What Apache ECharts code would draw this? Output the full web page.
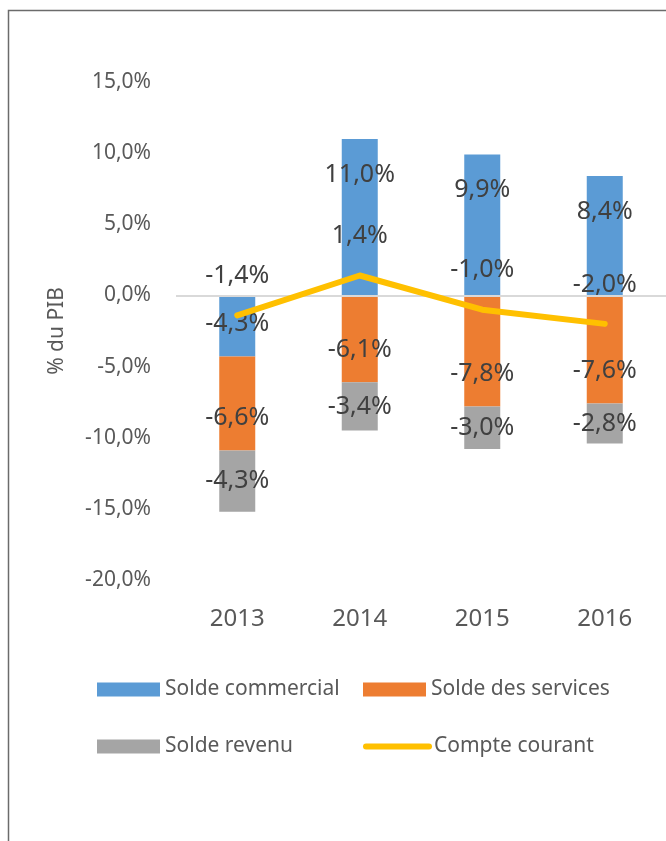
<!DOCTYPE html>
<html>
<head>
<meta charset="utf-8">
<script src="https://cdn.jsdelivr.net/npm/echarts@6/dist/echarts.min.js"></script>
<style>
  html, body { margin: 0; padding: 0; background: #fff; }
  #chart { width: 666px; height: 841px; }
</style>
</head>
<body>
<div id="chart"></div>
<script>
// données (% du PIB)
const years = ['2013', '2014', '2015', '2016']
const soldeCommercial = [-4.3, 11.0, 9.9, 8.4]
const soldeServices = [-6.6, -6.1, -7.8, -7.6]
const soldeRevenu = [-4.3, -3.4, -3.0, -2.8]
const compteCourant = [-1.4, 1.4, -1.0, -2.0]

// distance des étiquettes bleues (style seulement)
const blueLabelDist = [16, 23, 23, 23]

const fontFamily = '"Noto Sans", "Open Sans", sans-serif'
const fmt = (v) => v.toFixed(1).replace('.', ',') + '%'

const labelBase = {
  show: true,
  color: '#404040',
  fontSize: 25,
  fontFamily: fontFamily,
  formatter: (p) => fmt(p.value),
}

let myChart = echarts.init(document.getElementById('chart'))
let option = {
  animation: false,
  backgroundColor: '#fff',
  graphic: [
    {
      type: 'rect',
      shape: { x: 8.5, y: 10.5, width: 700, height: 900 },
      style: { fill: 'none', stroke: '#6b6b6b', lineWidth: 1.5 },
      silent: true,
      z: 100,
    },
  ],
  grid: {
    left: 176,
    top: 82,
    width: 494,
    height: 498,
  },
  legend: {
    left: 97,
    top: 666,
    width: 530,
    padding: 0,
    itemWidth: 63,
    itemHeight: 14,
    itemGap: 10,
    textStyle: {
      color: '#595959',
      fontSize: 21,
      fontFamily: fontFamily,
      width: 188,
      lineHeight: 47,
    },
    data: [
      { name: 'Solde commercial', icon: 'rect' },
      { name: 'Solde des services', icon: 'rect' },
      { name: 'Solde revenu', icon: 'rect' },
      {
        name: 'Compte courant',
        itemStyle: { opacity: 0 },
        lineStyle: { width: 6, color: '#ffc000', cap: 'round' },
      },
    ],
  },
  xAxis: {
    type: 'category',
    data: years,
    axisLine: { show: false },
    axisTick: { show: false },
    axisLabel: {
      color: '#595959',
      fontSize: 24,
      fontFamily: fontFamily,
      margin: 27,
    },
  },
  yAxis: {
    type: 'value',
    min: -20,
    max: 15,
    interval: 5,
    name: '% du PIB',
    nameLocation: 'middle',
    nameGap: 108,
    nameRotate: 90,
    nameTextStyle: {
      color: '#595959',
      fontSize: 21,
      fontFamily: fontFamily,
    },
    axisLine: { show: false },
    axisTick: { show: false },
    splitLine: { show: false },
    axisLabel: {
      color: '#595959',
      fontSize: 21,
      fontFamily: fontFamily,
      margin: 25,
      formatter: (v) => fmt(v),
    },
  },
  series: [
    {
      name: 'Solde commercial',
      type: 'bar',
      stack: 'solde',
      barWidth: 36,
      itemStyle: { color: '#5b9bd5' },
      label: labelBase,
      data: soldeCommercial.map((v, i) => ({
        value: v,
        label: { position: 'insideTop', distance: blueLabelDist[i] },
      })),
      markLine: {
        silent: true,
        symbol: 'none',
        label: { show: false },
        lineStyle: { color: '#d9d9d9', width: 2, type: 'solid' },
        data: [{ yAxis: 0 }],
      },
    },
    {
      name: 'Solde des services',
      type: 'bar',
      stack: 'solde',
      barWidth: 36,
      itemStyle: { color: '#ed7d31' },
      label: { ...labelBase, position: 'insideBottom', distance: 20 },
      data: soldeServices,
    },
    {
      name: 'Solde revenu',
      type: 'bar',
      stack: 'solde',
      barWidth: 36,
      itemStyle: { color: '#a5a5a5' },
      label: { ...labelBase, position: 'inside' },
      data: soldeRevenu,
    },
    {
      name: 'Compte courant',
      type: 'line',
      symbol: 'circle',
      symbolSize: 0,
      showSymbol: true,
      z: 5,
      lineStyle: { color: '#ffc000', width: 6, cap: 'round', join: 'round' },
      itemStyle: { color: '#ffc000' },
      label: { ...labelBase, position: 'top', distance: 27, opacity: 1 },
      labelLayout: { hideOverlap: false },
      data: compteCourant,
    },
  ],
}
myChart.setOption(option)
</script>
</body>
</html>
